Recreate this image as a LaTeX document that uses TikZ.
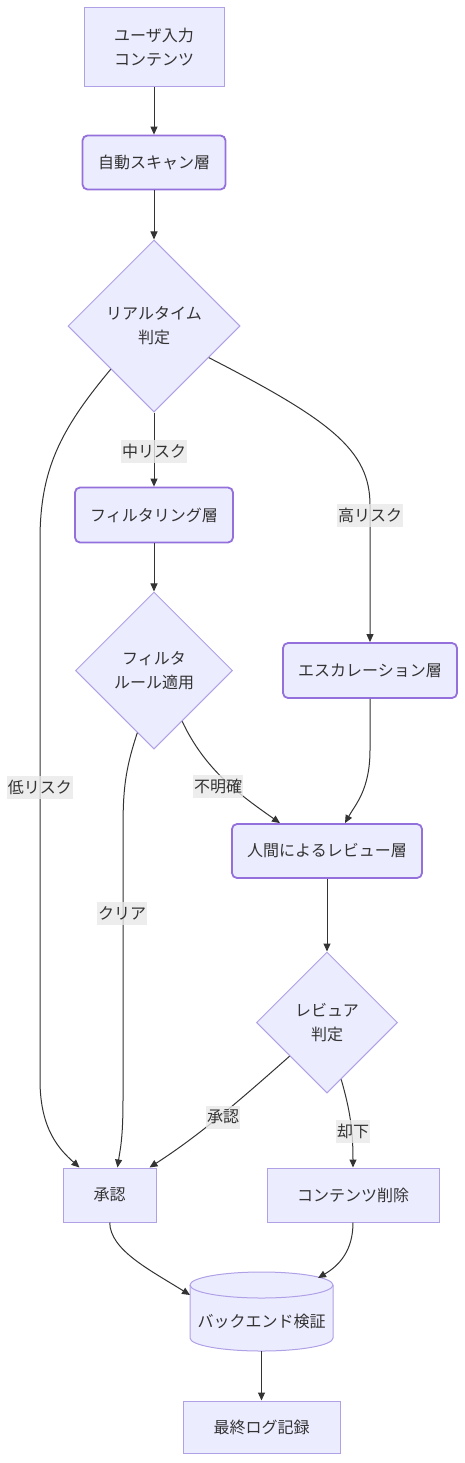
\documentclass[tikz,border=0pt]{standalone}
\usepackage{fontspec}
\setmainfont{Noto Sans CJK JP}
\usetikzlibrary{arrows.meta,shapes.geometric}
\definecolor{nodefill}{HTML}{ECECFF}
\definecolor{nodeline}{HTML}{9370DB}
\definecolor{thinline}{HTML}{B0A0E6}
\definecolor{edgecol}{HTML}{333333}
\definecolor{lblfill}{HTML}{E8E8E8}
\definecolor{txtcol}{HTML}{333333}
\begin{document}
\begin{tikzpicture}[x=1pt,y=-1pt,
  every node/.style={font=\fontsize{16pt}{24pt}\selectfont, text=txtcol},
  box/.style={draw=thinline, fill=nodefill, line width=1pt, inner sep=0pt, align=center},
  rbox/.style={box, draw=nodeline, rounded corners=5pt, line width=1.8pt},
  dia/.style={diamond, draw=thinline, fill=nodefill, line width=1pt, inner sep=0pt, align=center},
  edge/.style={draw=edgecol, line width=1pt, -{Triangle[length=8pt,width=7pt]}},
  lbl/.style={fill=lblfill, fill opacity=0.8, text opacity=1, inner xsep=1pt, inner ysep=0pt, minimum height=23pt}
]
\useasboundingbox (0,0) rectangle (465,1463);

% nodes
\node[box, minimum width=140pt, minimum height=79pt] (A) at (154,47.5) {ユーザ入力\\コンテンツ};
\node[rbox, minimum width=143pt, minimum height=54pt] (B) at (154,162.5) {自動スキャン層};
\node[dia, minimum width=172pt, minimum height=172pt] (C) at (154,326) {リアルタイム\\判定};
\node[rbox, minimum width=158pt, minimum height=55pt] (D) at (154,515) {フィルタリング層};
\node[dia, minimum width=157pt, minimum height=157pt] (E) at (154,670.5) {フィルタ\\ルール適用};
\node[rbox, minimum width=174pt, minimum height=55pt] (F) at (370,670.5) {エスカレーション層};
\node[rbox, minimum width=190pt, minimum height=54pt] (G) at (327,851) {人間によるレビュー層};
\node[dia, minimum width=141pt, minimum height=141pt] (H) at (327,1022.5) {レビュア\\判定};
\node[box, minimum width=93pt, minimum height=54pt] (I) at (109.5,1195) {承認};
\node[box, minimum width=172pt, minimum height=54pt] (J) at (353,1195) {コンテンツ削除};
\node[box, minimum width=157pt, minimum height=52pt] (L) at (261.5,1427) {最終ログ記録};

% cylinder
\path[draw=thinline, fill=nodefill, line width=1pt]
  (190,1285) -- (190,1338) .. controls (190,1345.2) and (222,1351) .. (261.5,1351)
  .. controls (301,1351) and (333,1345.2) .. (333,1338) -- (333,1285)
  .. controls (333,1277.8) and (301,1272) .. (261.5,1272)
  .. controls (222,1272) and (190,1277.8) .. (190,1285) -- cycle;
\draw[thinline, line width=1pt] (190,1285) .. controls (190,1292.2) and (222,1298) .. (261.5,1298)
  .. controls (301,1298) and (333,1292.2) .. (333,1285);
\node[minimum width=143pt, minimum height=79pt, inner sep=0pt] (K) at (261.5,1311.5) {};
\node (Ktext) at (261.5,1321) {バックエンド検証};
\coordinate (Kw) at (190,1295);
\coordinate (Kne) at (318,1278);

% edges
\draw[edge] (A) -- (B);
\draw[edge] (B) -- (C);
\draw[edge] (C) -- (D);
\draw[edge] (C.-30) .. controls (330,420) and (370,450) .. (370,505) -- (F);
\draw[edge] (C.south west) .. controls (60,430) and (40,470) .. (40,540) -- (40,1080)
  .. controls (40,1130) and (60,1150) .. ([xshift=-30pt]I.north);
\draw[edge] (D) -- (E);
\draw[edge] (E.-61) .. controls (205,770) and (240,795) .. ([xshift=-47pt]G.north);
\draw[edge] (E.-105) .. controls (125,770) and (123,790) .. (123,830) -- (123,1100)
  .. controls (123,1140) and (120,1150) .. ([xshift=8pt]I.north);
\draw[edge] (F) -- (370,750) .. controls (370,790) and (355,805) .. ([xshift=18pt]G.north);
\draw[edge] (G) -- (H);
\draw[edge] (H.-138) .. controls (240,1100) and (200,1135) .. ([xshift=40pt]I.north);
\draw[edge] (H.-76) .. controls (350,1110) and (353,1130) .. (J);
\draw[edge] (I) .. controls (110,1250) and (150,1270) .. (Kw);
\draw[edge] (J) .. controls (353,1250) and (340,1265) .. (Kne);
\draw[edge] (K) -- (L);

% labels
\node[lbl] (l1) at (154,451) {中リスク};
\node[lbl] (l2) at (370,515) {高リスク};
\node[lbl] (l3) at (40,787) {低リスク};
\node[lbl] (l4) at (218,786) {不明確};
\node[lbl] (l5) at (122,913) {クリア};
\node[lbl] (l6) at (223,1117) {承認};
\node[lbl] (l7) at (353,1131) {却下};
\end{tikzpicture}
\end{document}
